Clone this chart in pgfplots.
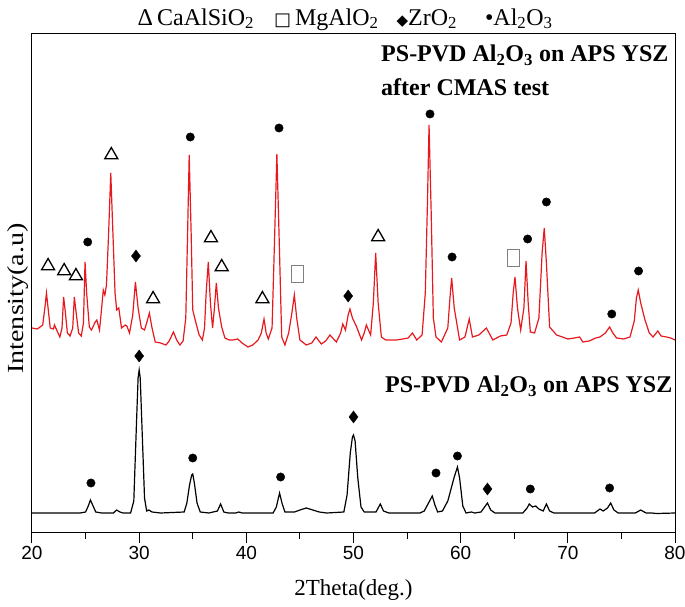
\documentclass[border=0pt]{standalone}
\usepackage{fontspec}
\setmainfont{Liberation Serif}
\newfontfamily\arialf{Liberation Sans}
\newfontfamily\dejavu{DejaVu Sans}
\usepackage{pgfplots}
\pgfplotsset{compat=1.18}
\definecolor{xrdred}{RGB}{230,25,30}
\newcommand\sub[1]{\textsubscript{#1}}
\begin{document}
\begin{tikzpicture}
\begin{axis}[
  name=ax,
  width=643pt, height=499pt, scale only axis,
  xmin=20, xmax=80, ymin=0, ymax=499,
  xtick={20,30,...,80},
  minor xtick={25,35,...,75},
  ytick=\empty,
  xtick pos=left,
  tick align=outside,
  major tick length=10pt,
  minor tick length=6pt,
  every tick/.style={black, line width=1pt},
  axis line style={line width=1pt},
  clip=false,
  /pgf/number format/assume math mode=true,
  xticklabel style={font=\fontsize{19}{19}\selectfont\arialf},
  xlabel={2Theta(deg.)},
  xlabel style={font=\fontsize{23}{23}\selectfont, at={(axis description cs:0.5,0)}, anchor=center, yshift=-57pt},
  ylabel={\scalebox{1.22}[1]{Intensity(a.u)}},
  ylabel style={font=\fontsize{23}{23}\selectfont, at={(axis description cs:-0.003,0.47)}, anchor=south, inner sep=1pt},
]
% after CMAS test (red)
\addplot[xrdred, line width=1.2pt] coordinates {
(20.0,205) (20.5,204) (21.0,208) (21.2,225) (21.35,240) (21.5,225) (21.7,205)
(22.0,204) (22.1,208) (22.3,203) (22.6,196) (22.8,205) (22.95,236) (23.1,222)
(23.3,200) (23.55,197) (23.8,205) (23.95,236) (24.1,222) (24.35,200) (24.6,197)
(24.8,210) (24.95,271) (25.1,240) (25.35,206) (25.55,203) (25.9,211) (26.05,213)
(26.3,203) (26.5,225) (26.65,243) (26.8,238) (26.95,248) (27.15,300) (27.35,360)
(27.55,300) (27.75,240) (27.9,223) (28.1,225) (28.35,205) (28.7,208) (28.85,207)
(29.1,200) (29.4,218) (29.65,251) (29.9,225) (30.2,205) (30.5,203) (30.75,212)
(30.95,220) (31.2,205) (31.5,191) (32.0,190) (32.5,188) (32.8,192) (33.2,201)
(33.5,193) (33.8,188) (34.1,192) (34.35,215) (34.5,290) (34.67,378) (34.85,300)
(35.0,223) (35.3,210) (35.6,198) (35.9,193) (36.1,205) (36.25,240) (36.45,271)
(36.65,230) (36.85,205) (37.0,222) (37.2,250) (37.4,225) (37.7,206) (38.0,195)
(38.4,193) (38.75,193) (39.2,194) (39.6,190) (40.15,186) (40.6,188) (41.1,193)
(41.4,200) (41.65,214) (41.85,200) (42.05,194) (42.4,205) (42.65,300) (42.85,379)
(43.05,300) (43.3,196) (43.6,188) (43.95,200) (44.25,220) (44.48,238) (44.7,215)
(45.0,193) (45.6,188) (46.1,190) (46.5,196) (47.0,189) (47.4,192) (47.8,198)
(48.4,191) (48.8,200) (49.0,209) (49.25,203) (49.5,218) (49.67,224) (49.9,215)
(50.3,206) (50.75,193) (51.0,200) (51.2,208) (51.6,198) (51.85,230) (52.07,280)
(52.3,230) (52.6,196) (53.0,193) (53.5,193) (54.0,193) (54.6,194) (55.1,195)
(55.5,200) (55.9,193) (56.4,198) (56.7,240) (56.9,330) (57.05,408) (57.25,320)
(57.45,215) (57.7,196) (58.2,191) (58.8,205) (59.0,235) (59.16,255) (59.4,225)
(59.9,193) (60.4,196) (60.8,214) (61.1,196) (61.7,198) (62.4,205) (63.0,193)
(63.7,197) (64.3,198) (64.7,210) (64.9,240) (65.07,256) (65.3,225) (65.6,203)
(65.9,225) (66.1,272) (66.3,230) (66.5,201) (66.9,200) (67.3,215) (67.6,280)
(67.8,305) (68.0,270) (68.3,206) (68.95,198) (69.5,196) (70.0,194) (70.6,195)
(71.1,196) (71.4,191) (72.0,192) (72.6,195) (73.0,196) (73.5,200) (73.9,206)
(74.2,200) (74.55,195) (75.2,194) (75.8,196) (76.2,212) (76.4,235) (76.57,243)
(76.8,230) (77.2,213) (77.6,200) (77.95,196) (78.4,202) (78.7,197) (79.2,196)
(79.6,195) (80.0,193)
};
% as-sprayed (black)
\addplot[black, line width=1.2pt] coordinates {
(20.0,20) (24.5,20) (25.0,21) (25.25,27) (25.45,33) (25.7,27) (25.95,21) (26.5,20)
(27.6,20) (27.9,23) (28.2,21) (28.5,20) (29.2,20) (29.5,32) (29.75,110) (29.9,155) (30.0,163)
(30.1,155) (30.25,110) (30.5,35) (30.7,22) (30.9,23) (31.2,21) (32.0,20) (34.2,21) (34.45,30)
(34.7,48) (34.9,58) (35.0,59) (35.15,50) (35.4,30) (35.7,21) (36.5,20) (37.3,22) (37.6,29)
(37.9,21) (38.3,20) (39.0,20) (39.3,21) (39.6,20) (42.5,20) (42.8,26) (43.1,40)
(43.35,29) (43.6,21) (44.5,21) (45.0,23) (45.6,25) (46.2,23) (46.8,21) (47.5,20)
(49.1,21) (49.4,38) (49.7,80) (49.9,96) (50.0,98) (50.15,92) (50.4,55) (50.7,26) (51.0,21) (52.1,21)
(52.5,29) (52.8,22) (53.3,20) (55.0,20) (56.2,20) (56.6,22) (57.1,32) (57.35,37)
(57.6,28) (57.85,21) (58.3,22) (58.8,32) (59.15,46) (59.4,56) (59.7,66) (59.9,55)
(60.2,27) (60.5,20) (61.0,21) (61.3,20) (61.9,21) (62.3,27) (62.5,30) (62.8,23)
(63.2,20) (65.8,20) (66.2,25) (66.4,29) (66.7,26) (67.0,27) (67.3,24) (67.7,22)
(68.0,29) (68.3,22) (68.7,20) (72.5,20) (73.0,24) (73.3,22) (73.7,25) (74.0,30)
(74.3,23) (74.7,20) (76.3,20) (76.8,23) (77.3,20) (77.8,20) (78.3,19.5) (80.0,20)
};
% CaAlSiO2 (triangles)
\addplot[only marks, mark=triangle, mark size=7.5pt, mark options={black, line width=1.3pt}] coordinates {
(21.5,267) (23.0,262) (24.1,257) (27.4,378) (31.3,234) (36.7,295) (37.7,266) (41.5,234) (52.3,296)
};
% MgAlO2 (squares)
\addplot[only marks, mark=square, mark size=8.5pt, mark options={draw=gray, line width=1pt, xscale=0.72}] coordinates {
(44.76,259) (64.9,275)
};
% ZrO2 (diamonds)
\addplot[only marks, mark=diamond*, mark size=6pt, mark options={black}] coordinates {
(29.7,277) (49.5,237) (30,177) (50,116) (62.5,44)
};
% Al2O3 (dots)
\addplot[only marks, mark=*, mark size=4.2pt, mark options={black}] coordinates {
(25.2,291) (34.77,396) (43.05,405) (57.14,419) (59.2,276) (66.25,294) (68.0,331) (74.1,219) (76.6,262)
(25.5,50) (35,75) (43.2,56) (57.7,60) (59.7,77) (66.5,44) (73.9,45)
};
\node[anchor=base west, font=\fontsize{24}{24}\selectfont\bfseries, inner sep=0pt] at (axis cs:52.57,471) {PS-PVD Al\sub{2}O\sub{3} on APS YSZ};
\node[anchor=base west, font=\fontsize{24}{24}\selectfont\bfseries, inner sep=0pt] at (axis cs:52.57,437) {after CMAS test};
\node[anchor=base west, font=\fontsize{24}{24}\selectfont\bfseries, inner sep=0pt] at (axis cs:52.94,140) {PS-PVD Al\sub{2}O\sub{3} on APS YSZ};
\node[anchor=base, font=\fontsize{24}{24}\selectfont, inner sep=0pt] at (rel axis cs:0.487,1.018) {%
Δ\,CaAlSiO\sub{2}\hspace{20pt}{\dejavu\fontsize{18}{18}\selectfont □}\,MgAlO\sub{2}\hspace{18pt}{\dejavu\fontsize{15}{15}\selectfont ◆}ZrO\sub{2}\hspace{28pt}•Al\sub{2}O\sub{3}};
\end{axis}
\pgfresetboundingbox
\path[use as bounding box] (ax.south west) ++(-32pt,-74pt) rectangle ++(685pt,607pt);
\end{tikzpicture}
\end{document}
